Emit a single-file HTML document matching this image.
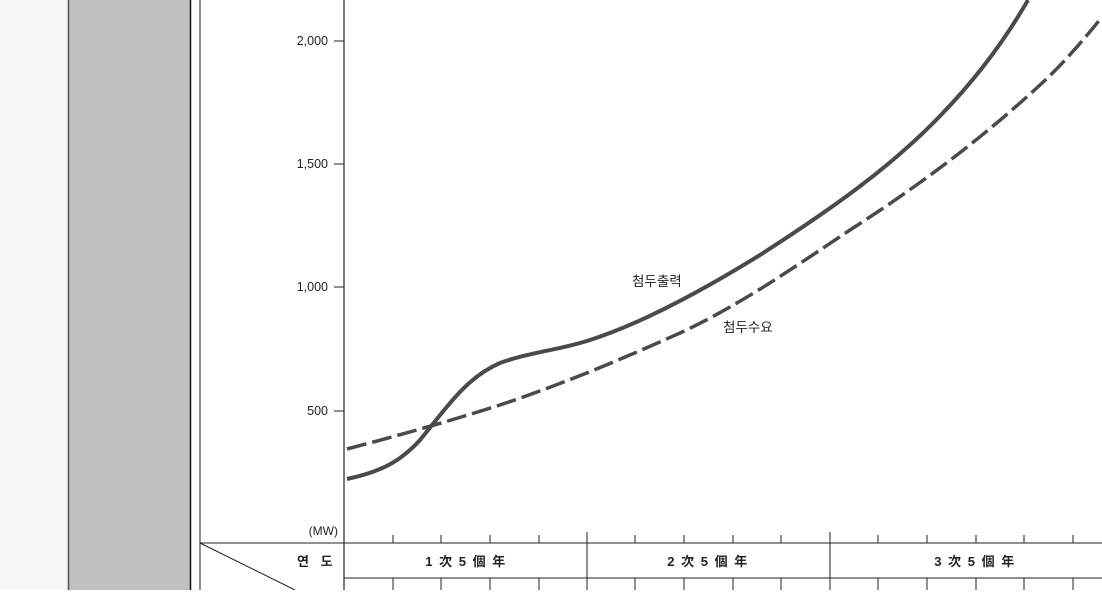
<!DOCTYPE html>
<html><head><meta charset="utf-8"><style>
body{margin:0;width:1102px;height:590px;overflow:hidden;background:#fff}
</style></head><body>
<svg width="1102" height="590" viewBox="0 0 1102 590" xmlns="http://www.w3.org/2000/svg" font-family="Liberation Sans, Noto Sans CJK KR, sans-serif">
<rect x="0" y="0" width="68" height="590" fill="#f5f5f5"/>
<rect x="68" y="0" width="123" height="590" fill="#c0c0c0"/>
<line x1="68.5" y1="0" x2="68.5" y2="590" stroke="#555" stroke-width="1.5"/>
<line x1="190.5" y1="0" x2="190.5" y2="590" stroke="#111" stroke-width="1.5"/>
<line x1="200" y1="0" x2="200" y2="590" stroke="#222" stroke-width="1"/>
<line x1="344" y1="0" x2="344" y2="590" stroke="#222" stroke-width="1.2"/>
<g stroke="#222" stroke-width="1">
<line x1="334" y1="41" x2="344" y2="41"/><line x1="334" y1="164" x2="344" y2="164"/>
<line x1="334" y1="287" x2="344" y2="287"/><line x1="334" y1="411" x2="344" y2="411"/>
</g>
<g font-size="12.5" fill="#222" text-anchor="end">
<text x="328" y="45">2,000</text><text x="328" y="168">1,500</text>
<text x="328" y="291">1,000</text><text x="328" y="415">500</text>
<text x="338" y="535" font-size="12">(MW)</text>
</g>
<g stroke="#222" stroke-width="1">
<line x1="200" y1="543" x2="1102" y2="543"/>
<line x1="344" y1="578" x2="1102" y2="578"/>
<line x1="200" y1="543" x2="295" y2="590"/>
<line x1="587" y1="532" x2="587" y2="578"/><line x1="830" y1="532" x2="830" y2="578"/>
<line x1="393" y1="535" x2="393" y2="543"/><line x1="441" y1="535" x2="441" y2="543"/><line x1="490" y1="535" x2="490" y2="543"/><line x1="539" y1="535" x2="539" y2="543"/>
<line x1="635" y1="535" x2="635" y2="543"/><line x1="684" y1="535" x2="684" y2="543"/><line x1="733" y1="535" x2="733" y2="543"/><line x1="781" y1="535" x2="781" y2="543"/>
<line x1="878" y1="535" x2="878" y2="543"/><line x1="927" y1="535" x2="927" y2="543"/><line x1="976" y1="535" x2="976" y2="543"/><line x1="1024" y1="535" x2="1024" y2="543"/><line x1="1073" y1="535" x2="1073" y2="543"/>
<line x1="393" y1="578" x2="393" y2="590"/><line x1="441" y1="578" x2="441" y2="590"/><line x1="490" y1="578" x2="490" y2="590"/><line x1="539" y1="578" x2="539" y2="590"/><line x1="587" y1="578" x2="587" y2="590"/>
<line x1="635" y1="578" x2="635" y2="590"/><line x1="684" y1="578" x2="684" y2="590"/><line x1="733" y1="578" x2="733" y2="590"/><line x1="781" y1="578" x2="781" y2="590"/><line x1="830" y1="578" x2="830" y2="590"/>
<line x1="878" y1="578" x2="878" y2="590"/><line x1="927" y1="578" x2="927" y2="590"/><line x1="976" y1="578" x2="976" y2="590"/><line x1="1024" y1="578" x2="1024" y2="590"/><line x1="1073" y1="578" x2="1073" y2="590"/>
</g>
<g font-size="13" fill="#222" font-weight="bold" letter-spacing="1.5">
<text x="297" y="566" letter-spacing="4">연 도</text>
<text x="466" y="566" text-anchor="middle">1 次 5 個 年</text>
<text x="708" y="566" text-anchor="middle">2 次 5 個 年</text>
<text x="975" y="566" text-anchor="middle">3 次 5 個 年</text>
</g>
<path d="M347,479 C380,472 400,462 420,440 C445,410 465,378 500,363 C530,352 560,350 590,340 C640,324 700,292 760,255 C830,210 890,168 940,116 C975,80 1005,40 1028,0" fill="none" stroke="#4a4a4a" stroke-width="4"/>
<path d="M347,449 C400,435 440,424 500,405 C560,385 620,360 680,333 C740,305 790,270 850,230 C920,185 980,140 1040,85 C1065,62 1085,38 1102,17" fill="none" stroke="#4a4a4a" stroke-width="3.5" stroke-dasharray="20,6"/>
<g font-size="13.5" fill="#222">
<text x="632" y="286">첨두출력</text>
<text x="723" y="332">첨두수요</text>
</g>
</svg>
</body></html>
